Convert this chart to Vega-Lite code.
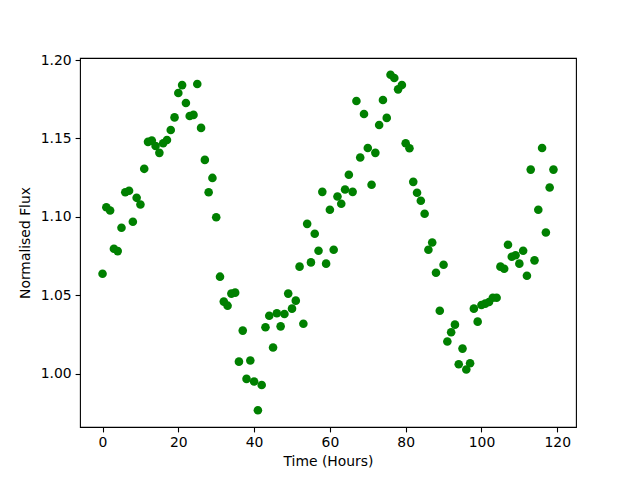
{
  "$schema": "https://vega.github.io/schema/vega-lite/v6.json",
  "width": 496,
  "height": 369,
  "autosize": {"type": "none"},
  "padding": {"left": 80, "top": 58, "right": 64, "bottom": 53},
  "background": "white",
  "config": {
    "view": {"stroke": "black", "strokeWidth": 1.1},
    "axis": {
      "grid": false,
      "domain": false,
      "tickColor": "black",
      "tickWidth": 1.1,
      "tickSize": 4.9,
      "labelPadding": 4,
      "labelFont": "DejaVu Sans",
      "labelFontSize": 13.9,
      "labelColor": "black",
      "titleFont": "DejaVu Sans",
      "titleFontSize": 13.9,
      "titleFontWeight": "normal",
      "titleColor": "black"
    }
  },
  "data": {
    "values": [
      {"t": 0, "f": 1.0637}, {"t": 1, "f": 1.1061}, {"t": 2, "f": 1.104}, {"t": 3, "f": 1.0796},
      {"t": 4, "f": 1.0781}, {"t": 5, "f": 1.093}, {"t": 6, "f": 1.1157}, {"t": 7, "f": 1.1166},
      {"t": 8, "f": 1.0968}, {"t": 9, "f": 1.1121}, {"t": 10, "f": 1.1078}, {"t": 11, "f": 1.1306},
      {"t": 12, "f": 1.1478}, {"t": 13, "f": 1.1486}, {"t": 14, "f": 1.1452}, {"t": 15, "f": 1.1408},
      {"t": 16, "f": 1.1469}, {"t": 17, "f": 1.149}, {"t": 18, "f": 1.1554}, {"t": 19, "f": 1.1634},
      {"t": 20, "f": 1.179}, {"t": 21, "f": 1.184}, {"t": 22, "f": 1.1726}, {"t": 23, "f": 1.1643},
      {"t": 24, "f": 1.165}, {"t": 25, "f": 1.1847}, {"t": 26, "f": 1.1567}, {"t": 27, "f": 1.1363},
      {"t": 28, "f": 1.1157}, {"t": 29, "f": 1.1248}, {"t": 30, "f": 1.0997}, {"t": 31, "f": 1.0618},
      {"t": 32, "f": 1.0459}, {"t": 33, "f": 1.0433}, {"t": 34, "f": 1.051}, {"t": 35, "f": 1.0516},
      {"t": 36, "f": 1.0076}, {"t": 37, "f": 1.0274}, {"t": 38, "f": 0.9966}, {"t": 39, "f": 1.0083},
      {"t": 40, "f": 0.9949}, {"t": 41, "f": 0.9766}, {"t": 42, "f": 0.9927}, {"t": 43, "f": 1.0295},
      {"t": 44, "f": 1.0369}, {"t": 45, "f": 1.0166}, {"t": 46, "f": 1.0385}, {"t": 47, "f": 1.0301},
      {"t": 48, "f": 1.038}, {"t": 49, "f": 1.051}, {"t": 50, "f": 1.0414}, {"t": 51, "f": 1.0465},
      {"t": 52, "f": 1.0682}, {"t": 53, "f": 1.0318}, {"t": 54, "f": 1.0955}, {"t": 55, "f": 1.0709},
      {"t": 56, "f": 1.0892}, {"t": 57, "f": 1.0783}, {"t": 58, "f": 1.1159}, {"t": 59, "f": 1.0701},
      {"t": 60, "f": 1.1045}, {"t": 61, "f": 1.079}, {"t": 62, "f": 1.1129}, {"t": 63, "f": 1.1083},
      {"t": 64, "f": 1.1174}, {"t": 65, "f": 1.1268}, {"t": 66, "f": 1.1159}, {"t": 67, "f": 1.1739},
      {"t": 68, "f": 1.1378}, {"t": 69, "f": 1.1656}, {"t": 70, "f": 1.1439}, {"t": 71, "f": 1.1204},
      {"t": 72, "f": 1.1408}, {"t": 73, "f": 1.1586}, {"t": 74, "f": 1.1745}, {"t": 75, "f": 1.1631},
      {"t": 76, "f": 1.1906}, {"t": 77, "f": 1.1885}, {"t": 78, "f": 1.1813}, {"t": 79, "f": 1.1841},
      {"t": 80, "f": 1.1469}, {"t": 81, "f": 1.1437}, {"t": 82, "f": 1.1223}, {"t": 83, "f": 1.1153},
      {"t": 84, "f": 1.1102}, {"t": 85, "f": 1.1019}, {"t": 86, "f": 1.079}, {"t": 87, "f": 1.0836},
      {"t": 88, "f": 1.0643}, {"t": 89, "f": 1.0401}, {"t": 90, "f": 1.0694}, {"t": 91, "f": 1.0204},
      {"t": 92, "f": 1.0263}, {"t": 93, "f": 1.0312}, {"t": 94, "f": 1.0059}, {"t": 95, "f": 1.0159},
      {"t": 96, "f": 1.0026}, {"t": 97, "f": 1.0066}, {"t": 98, "f": 1.0414}, {"t": 99, "f": 1.0331},
      {"t": 100, "f": 1.0437}, {"t": 101, "f": 1.0446}, {"t": 102, "f": 1.0456}, {"t": 103, "f": 1.0484},
      {"t": 104, "f": 1.0484}, {"t": 105, "f": 1.0682}, {"t": 106, "f": 1.0669}, {"t": 107, "f": 1.0822},
      {"t": 108, "f": 1.0745}, {"t": 109, "f": 1.0755}, {"t": 110, "f": 1.0701}, {"t": 111, "f": 1.0783},
      {"t": 112, "f": 1.0624}, {"t": 113, "f": 1.1301}, {"t": 114, "f": 1.0722}, {"t": 115, "f": 1.1045},
      {"t": 116, "f": 1.1439}, {"t": 117, "f": 1.09}, {"t": 118, "f": 1.1187}, {"t": 119, "f": 1.1301}
    ]
  },
  "mark": {"type": "point", "shape": "circle", "filled": true, "color": "#008000", "opacity": 1, "size": 74},
  "encoding": {
    "x": {
      "field": "t",
      "type": "quantitative",
      "title": "Time (Hours)",
      "scale": {"domain": [-5.95, 124.95], "nice": false, "zero": false},
      "axis": {"values": [0, 20, 40, 60, 80, 100, 120], "format": "d", "titlePadding": 5}
    },
    "y": {
      "field": "f",
      "type": "quantitative",
      "title": "Normalised Flux",
      "scale": {"domain": [0.9659, 1.2013], "nice": false, "zero": false},
      "axis": {"values": [1.0, 1.05, 1.1, 1.15, 1.2], "format": ".2f", "titlePadding": 8}
    }
  }
}
